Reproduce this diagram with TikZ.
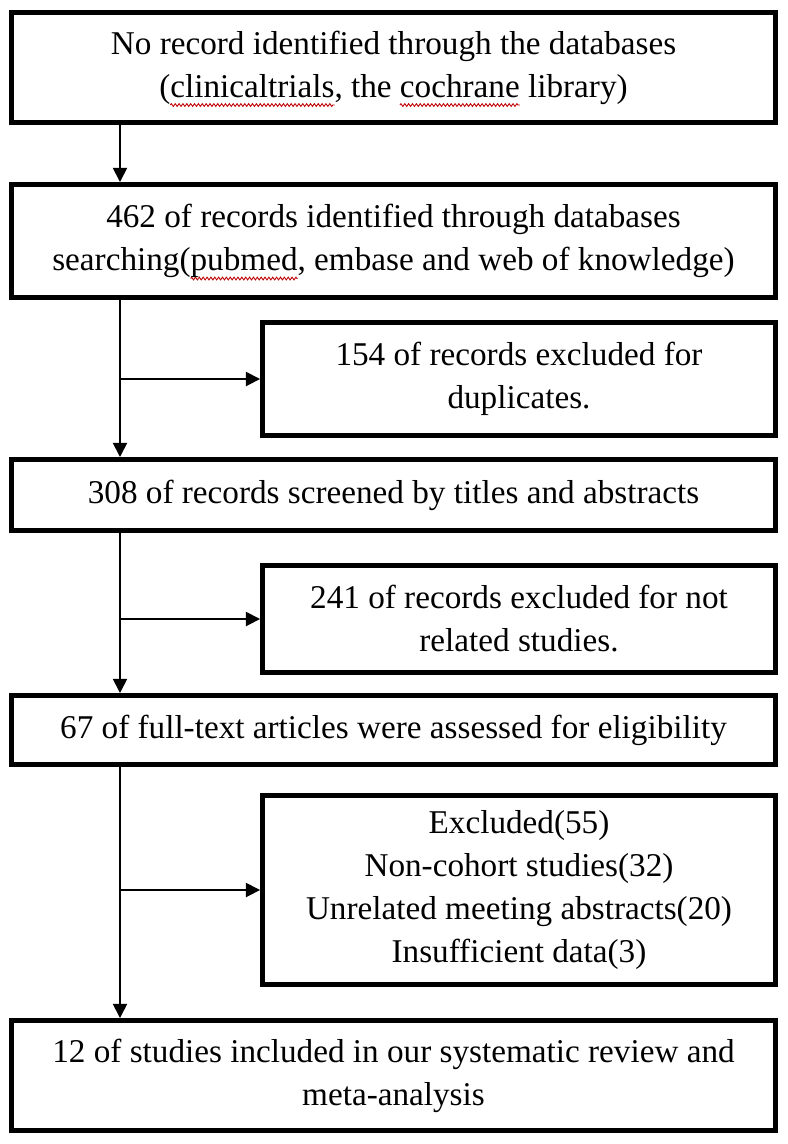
\documentclass[tikz,border=0pt]{standalone}
\usepackage{fontspec}
\setmainfont{Liberation Serif}
\usetikzlibrary{arrows.meta, decorations.pathmorphing}
\newsavebox\markbox
\newcommand\spellmark[1]{\sbox\markbox{#1}\rlap{\tikz[overlay]\draw[red!75!black, line width = 0.5pt, decorate,
    decoration = {zigzag, amplitude = 0.8pt, segment length = 2.2pt}] (0pt, -4.5pt) -- (\wd\markbox, -4.5pt);}#1}

\begin{document}
\begin{tikzpicture}[x = 0.02cm, y = -0.02cm, line width = 1pt,
                        box/.style = {rectangle, draw, line width = 2.85pt, align = center, inner sep = 0pt,
                                      font = \fontsize{18.9}{24.5}\selectfont},
                        wide/.style = {box, minimum width = 15.28cm},
                        side/.style = {box, minimum width = 10.26cm},
                        arr/.style = {-{Triangle[length = 8pt, width = 8pt]}}]
      \useasboundingbox (0, 0) rectangle (788, 1144);
      \node [wide, minimum height = 2.2cm] (b1) at (393.5, 67.5)
            {No record identified through the databases\\(\spellmark{clinicaltrials}, the \spellmark{cochrane} library)};
      \node [wide, minimum height = 2.26cm] (b2) at (393.5, 241)
            {462 of records identified through databases\\searching(\spellmark{pubmed}, embase and web of knowledge)};
      \node [side, minimum height = 2.26cm] (b3) at (519, 379)
            {154 of records excluded for\\duplicates.};
      \node [wide, minimum height = 1.42cm] (b4) at (393.5, 495)
            {308 of records screened by titles and abstracts};
      \node [side, minimum height = 2.14cm] (b5) at (519, 619)
            {241 of records excluded for not\\related studies.};
      \node [wide, minimum height = 1.38cm] (b6) at (393.5, 730)
            {67 of full-text articles were assessed for eligibility};
      \node [side, minimum height = 3.78cm] (b7) at (519, 890)
            {Excluded(55)\\Non-cohort studies(32)\\Unrelated meeting abstracts(20)\\Insufficient data(3)};
      \node [wide, minimum height = 2.2cm] (b8) at (393.5, 1075.5)
            {12 of studies included in our systematic review and\\meta-analysis};
      \coordinate (col) at (120, 0);
      \draw [arr] (b1.south -| col) -- (b2.north -| col);
      \draw [arr] (b2.south -| col) -- (b4.north -| col);
      \draw [arr] (b4.south -| col) -- (b6.north -| col);
      \draw [arr] (b6.south -| col) -- (b8.north -| col);
      \draw [arr] (b3.west -| col) -- (b3.west);
      \draw [arr] (b5.west -| col) -- (b5.west);
      \draw [arr] (b7.west -| col) -- (b7.west);
    \end{tikzpicture}
\end{document}
